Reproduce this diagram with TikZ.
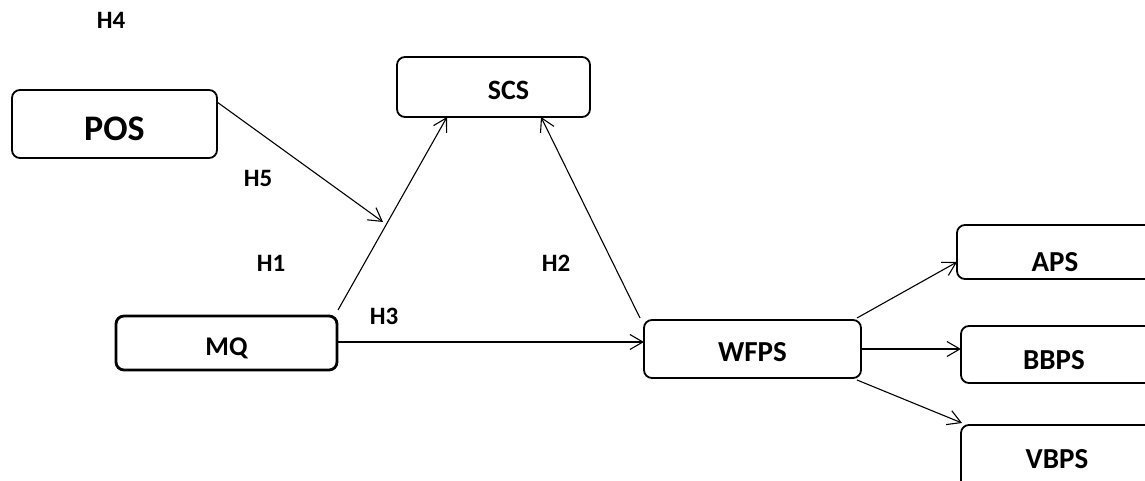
\documentclass[tikz,border=0pt]{standalone}
\usepackage{fontspec}
\setmainfont{Carlito}
\usetikzlibrary{arrows.meta}
\newcommand{\lowr}[2]{\raisebox{-#1}[\height][0pt]{#2}}
\begin{document}
\begin{tikzpicture}[x=1pt,y=-1pt,
  box/.style={draw, line width=1.8pt, rounded corners=8pt, inner sep=0pt, outer sep=0pt, font=\bfseries\fontsize{28}{28}\selectfont},
  lab/.style={font=\bfseries\fontsize{25}{25}\selectfont, inner sep=0pt},
  arr/.style={line width=1.1pt, -{Straight Barb[length=13pt,width=15pt,line width=1.1pt]}}]
\useasboundingbox (0,0) rectangle (1145,481);
\clip (0,0) rectangle (1145,481);
% boxes
\node[box, minimum width=205pt, minimum height=68pt, font=\bfseries\fontsize{36}{36}\selectfont] (pos) at (114.5,124) {\lowr{5pt}{POS}};
\node[box, minimum width=193pt, minimum height=60pt] (scs) at (493.5,87) {\hspace*{30pt}\lowr{3pt}{SCS}};
\node[box, line width=2.8pt, minimum width=221pt, minimum height=54pt, font=\bfseries\fontsize{27}{27}\selectfont] (mq) at (226.5,343) {\lowr{4pt}{MQ}};
\node[box, minimum width=217pt, minimum height=58pt, font=\bfseries\fontsize{29}{29}\selectfont] (wfps) at (752.5,349) {\lowr{3pt}{WFPS}};
\node[box, minimum width=203pt, minimum height=54pt, font=\bfseries\fontsize{29}{29}\selectfont] (aps) at (1058.5,252) {\hspace*{-7pt}\lowr{10pt}{APS}};
\node[box, minimum width=200pt, minimum height=57pt, font=\bfseries\fontsize{29}{29}\selectfont] (bbps) at (1061,354.5) {\hspace*{-14pt}\lowr{5pt}{BBPS}};
\node[box, minimum width=200pt, minimum height=80pt, font=\bfseries\fontsize{29}{29}\selectfont] (vbps) at (1061,465) {\hspace*{-8pt}\lowr{-6pt}{VBPS}};
% labels
\node[lab] (h4) at (111,20) {H4};
\node[lab] (h5) at (258,178) {H5};
\node[lab] (h1) at (271,263) {H1};
\node[lab] (h2) at (556,263) {H2};
\node[lab] (h3) at (384,316) {H3};
% connectors
\coordinate (p5) at (383,222);
\draw[arr] ([yshift=22pt]pos.east) -- (p5);
\draw[arr] ([xshift=1pt,yshift=6pt]mq.north east) -- ([xshift=50pt]scs.south west);
\draw[arr] ([xshift=-4pt,yshift=2pt]wfps.north west) -- ([xshift=-49pt]scs.south east);
\draw[arr] ([yshift=1pt]mq.east) -- ([yshift=1pt]mq.east -| wfps.west);
\draw[arr] ([xshift=-4pt,yshift=2pt]wfps.north east) -- ([yshift=-10pt]aps.west);
\draw[arr] (wfps.east) -- (wfps.east -| bbps.west);
\draw[arr] ([xshift=-4pt,yshift=-2pt]wfps.south east) -- ([xshift=1pt,yshift=2pt]vbps.north west);
\end{tikzpicture}
\end{document}
